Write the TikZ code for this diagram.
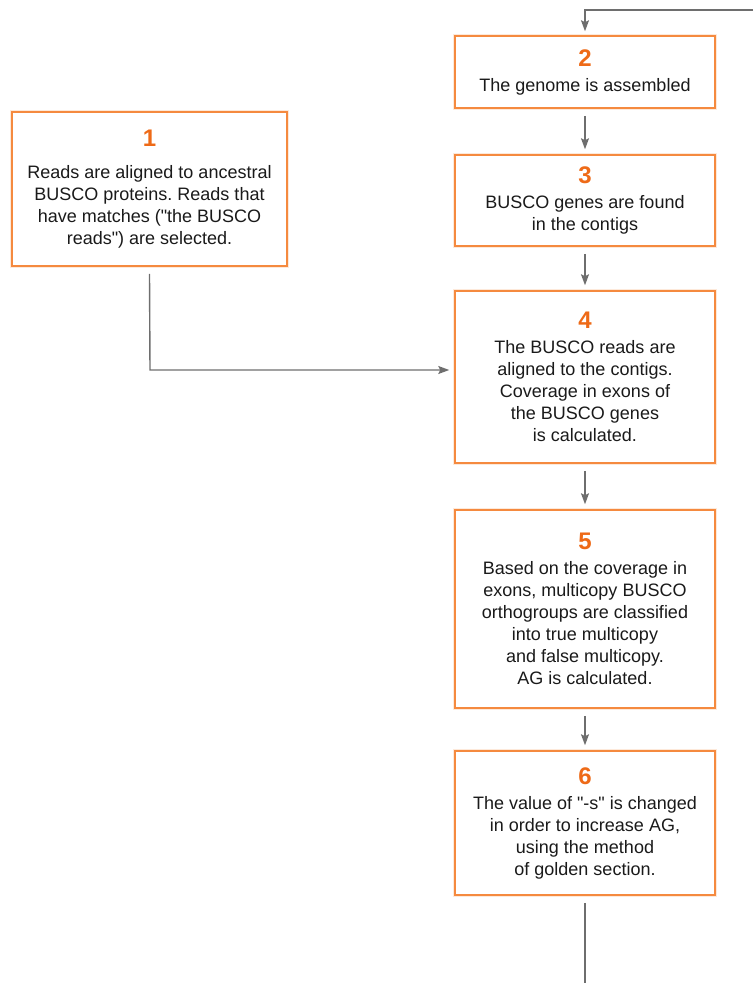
\documentclass[tikz,border=0pt]{standalone}
\usepackage{fontspec}
\setmainfont{Liberation Sans}
\usetikzlibrary{arrows.meta,calc}
\definecolor{boxc}{HTML}{F58A3F}
\definecolor{glowc}{HTML}{FBD3B5}
\definecolor{numc}{HTML}{EE6A17}
\definecolor{linec}{HTML}{6E6E6E}
\definecolor{txtc}{HTML}{1A1A1A}
\newcommand\stepnum[1]{{\fontsize{24}{24}\selectfont\bfseries\color{numc}#1}}
\newcommand\dq{\textquotedbl}
\frenchspacing
\begin{document}
\begin{tikzpicture}[x=1pt,y=-1pt,
  box/.style={draw=boxc, line width=1.5pt, fill=white, align=center,
    font=\fontsize{18}{22}\selectfont, text=txtc, inner sep=0pt,
    preaction={draw=glowc, line width=4pt, opacity=0.5}},
  conn/.style={draw=linec, line width=1.4pt},
  arr/.style={conn, -{Stealth[length=11pt,width=8pt,inset=2pt]}}]
\useasboundingbox (0,0) rectangle (753,983);
\node[box, minimum width=275pt, minimum height=154pt] (b1) at (149.5,189)
  {\stepnum{1}\\[10pt]Reads are aligned to ancestral\\BUSCO proteins. Reads that\\have matches (\dq the BUSCO\\reads\dq) are selected.};
\node[box, minimum width=260pt, minimum height=72pt] (b2) at (585,72)
  {\stepnum{2}\\[3pt]The genome is assembled};
\node[box, minimum width=260pt, minimum height=91pt] (b3) at (585,200.5)
  {\stepnum{3}\\[3pt]BUSCO genes are found\\in the contigs};
\node[box, minimum width=260pt, minimum height=172pt] (b4) at (585,377)
  {\stepnum{4}\\[3pt]The BUSCO reads are\\aligned to the contigs.\\Coverage in exons of\\the BUSCO genes\\is calculated.};
\node[box, minimum width=260pt, minimum height=198pt] (b5) at (585,609)
  {\stepnum{5}\\[3pt]Based on the coverage in\\exons, multicopy BUSCO\\orthogroups are classified\\into true multicopy\\and false multicopy.\\AG is calculated.};
\node[box, minimum width=260pt, minimum height=144pt] (b6) at (585,823)
  {\stepnum{6}\\[3pt]The value of \dq-s\dq{} is changed\\in order to increase AG,\\using the method\\of golden section.};
\coordinate (fin) at (753,10);
\coordinate (fout) at (585,983);
\coordinate (bend) at (150,370);
\draw[arr, shorten >=4pt] (fin) -| (b2.north);
\draw[arr, shorten <=7pt, shorten >=5pt] (b2) -- (b3);
\draw[arr, shorten <=7pt, shorten >=5pt] (b3) -- (b4);
\draw[arr, shorten <=7pt, shorten >=5pt] (b4) -- (b5);
\draw[arr, shorten <=7pt, shorten >=5pt] (b5) -- (b6);
\draw[arr, shorten >=5pt] ($(b1.south)+(0,7)$) -- (bend) -- (b4.west |- bend);
\draw[conn, shorten <=7pt] (b6) -- (fout);
\end{tikzpicture}
\end{document}
